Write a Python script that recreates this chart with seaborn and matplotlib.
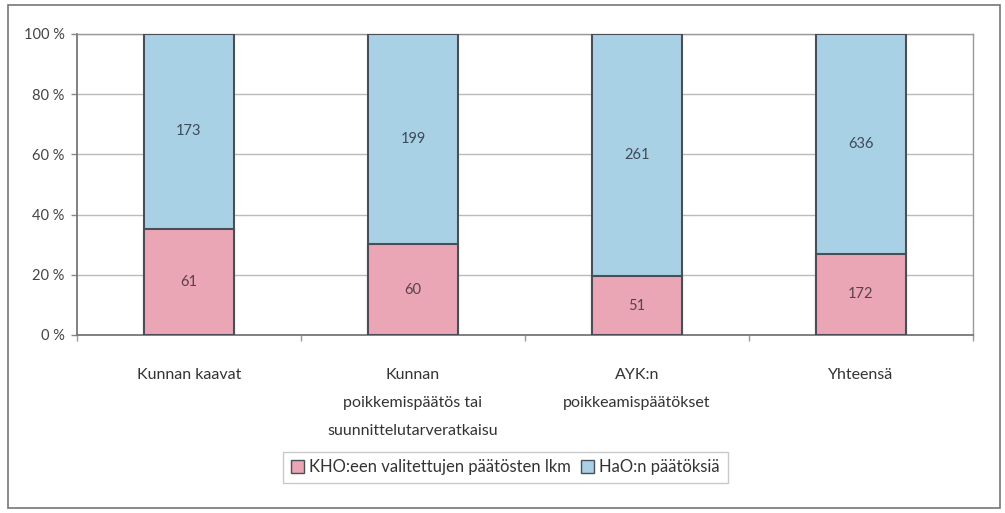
import matplotlib
matplotlib.use("Agg")
import matplotlib.pyplot as plt
import seaborn as sns
import pandas as pd
import numpy as np
from matplotlib.patches import Patch, Rectangle

categories = ["Kunnan kaavat",
              "Kunnan\npoikkemispäätös tai\nsuunnittelutarveratkaisu",
              "AYK:n\npoikkeamispäätökset",
              "Yhteensä"]
kho_values = [61, 60, 51, 172]
hao_values = [173, 199, 261, 636]
series_names = ["KHO:een valitettujen päätösten lkm", "HaO:n päätöksiä"]
ytick_values = [0, 20, 40, 60, 80, 100]
ytick_labels = ["0 %", "20 %", "40 %", "60 %", "80 %", "100 %"]

pink = "#EBA6B6"
blue = "#A9D1E5"
edge = "#4A4F57"

sns.set_theme(style="white")
plt.rcParams["font.family"] = ["Lato", "DejaVu Sans"]

df = pd.DataFrame({
    "cat": categories,
    "kho_pct": [k / h * 100 for k, h in zip(kho_values, hao_values)],
    "total": [100.0] * len(categories),
})

fig = plt.figure(figsize=(10.05, 5.13), dpi=100)
ax = fig.add_axes([0.0766, 0.347, 0.8914, 0.587])

sns.barplot(data=df, x="cat", y="total", color=blue, width=0.4,
            edgecolor=edge, linewidth=1.5, saturation=1, ax=ax, zorder=3)
sns.barplot(data=df, x="cat", y="kho_pct", color=pink, width=0.4,
            edgecolor=edge, linewidth=1.5, saturation=1, ax=ax, zorder=4)

for i, (k, h) in enumerate(zip(kho_values, hao_values)):
    p = k / h * 100
    ax.text(i, p / 2, str(k), ha="center", va="center", fontsize=10.5,
            color="#5a4048", zorder=5)
    ax.text(i, p + (100 - p) / 2, str(h), ha="center", va="center",
            fontsize=10.5, color="#3d4a58", zorder=5)

ax.set_ylim(0, 100)
ax.set_xlim(-0.5, len(categories) - 0.5)
ax.set_yticks(ytick_values)
ax.set_yticklabels(ytick_labels, fontsize=10.5, color="#444444")
ax.set_xticks(range(len(categories)))
ax.set_xticklabels(categories, fontsize=11.5, color="#333333", linespacing=2.25)
ax.set_xticks(np.arange(-0.5, len(categories), 1.0), minor=True)
ax.tick_params(axis="x", which="major", length=0, pad=24)
ax.tick_params(axis="x", which="minor", length=4, width=1, color="#999999", bottom=True)
ax.tick_params(axis="y", length=4, width=1, color="#888888", left=True, pad=5)
ax.set_xlabel("")
ax.set_ylabel("")
ax.yaxis.grid(True, color="#BBBBBB", linewidth=1, zorder=0)
ax.set_axisbelow(True)

for side in ["top", "right"]:
    ax.spines[side].set_visible(True)
    ax.spines[side].set_color("#999999")
    ax.spines[side].set_linewidth(1)
for side in ["left", "bottom"]:
    ax.spines[side].set_visible(True)
    ax.spines[side].set_color("#777777")
    ax.spines[side].set_linewidth(1.3)

handles = [Patch(facecolor=pink, edgecolor=edge, linewidth=1),
           Patch(facecolor=blue, edgecolor=edge, linewidth=1)]
leg = fig.legend(handles, series_names, loc="center", bbox_to_anchor=(0.503, 0.089),
                 ncol=2, frameon=True, fancybox=False, fontsize=12,
                 handlelength=0.8, handleheight=0.8, handletextpad=0.3,
                 columnspacing=0.6, borderpad=0.45, borderaxespad=0)
leg.get_frame().set_edgecolor("#BBBBBB")
leg.get_frame().set_linewidth(1)
for t in leg.get_texts():
    t.set_color("#333333")

fig.patches.append(Rectangle((8 / 1005, 5 / 513), 992 / 1005, 503 / 513,
                             transform=fig.transFigure, fill=False,
                             edgecolor="#777777", linewidth=1.2))

fig.savefig("out.png", dpi=100)
